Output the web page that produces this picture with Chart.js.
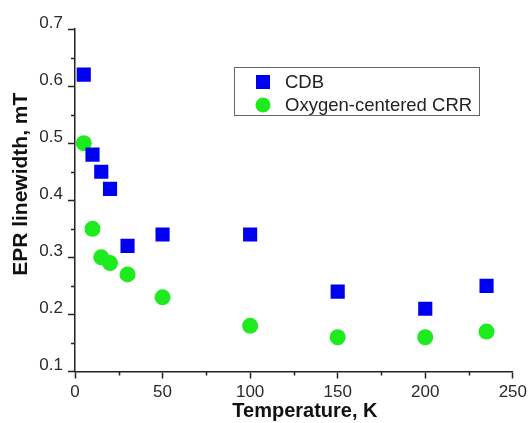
<!DOCTYPE html>
<html>
<head>
<meta charset="utf-8">
<script src="https://cdn.jsdelivr.net/npm/chart.js@4"></script>
<style>
  body { margin: 0; background: #fff; }
  #wrap { width: 531px; height: 423px; position: relative; }
</style>
</head>
<body>
<div id="wrap"><canvas id="epr"></canvas></div>
<script>
// temperatures (K) and linewidths (mT)
const temperatures = [5, 10, 15, 20, 30, 50, 100, 150, 200, 235];
const cdbWidth = [0.62, 0.48, 0.45, 0.42, 0.32, 0.34, 0.34, 0.24, 0.21, 0.25];
const crrWidth = [0.50, 0.35, 0.30, 0.29, 0.27, 0.23, 0.18, 0.16, 0.16, 0.17];
const seriesNames = ['CDB', 'Oxygen-centered CRR'];
const xTitle = 'Temperature, K';
const yTitle = 'EPR linewidth, mT';
const xMinorTicks = [25, 75, 125, 175, 225];
const yMinorTicks = [0.15, 0.25, 0.35, 0.45, 0.55, 0.65];

const FONT = "Arial, 'Liberation Sans', sans-serif";
const INK = '#222';
const BLUE = '#0000f0';
const GREEN = '#1eeb1e';

function toPoints(values) {
  return temperatures.map((t, i) => ({ x: t, y: values[i] }));
}

// small outward ticks between the labelled ones
const minorTicks = {
  id: 'minorTicks',
  afterDraw(chart) {
    const ctx = chart.ctx;
    const xs = chart.scales.x, ys = chart.scales.y;
    ctx.save();
    ctx.strokeStyle = INK;
    ctx.lineWidth = 1.5;
    ctx.beginPath();
    xMinorTicks.forEach(v => {
      const px = Math.round(xs.getPixelForValue(v)) + 0.5;
      ctx.moveTo(px, xs.top);
      ctx.lineTo(px, xs.top + 4);
    });
    yMinorTicks.forEach(v => {
      const py = Math.round(ys.getPixelForValue(v)) + 0.5;
      ctx.moveTo(ys.right, py);
      ctx.lineTo(ys.right - 4, py);
    });
    ctx.stroke();
    ctx.restore();
  }
};

// axis titles, placed like in the original figure (slightly off-centre)
const axisTitles = {
  id: 'axisTitles',
  afterDraw(chart) {
    const ctx = chart.ctx;
    const area = chart.chartArea;
    ctx.save();
    ctx.fillStyle = '#111';
    ctx.textAlign = 'center';
    ctx.textBaseline = 'middle';
    ctx.font = 'bold 20px ' + FONT;
    ctx.fillText(xTitle, (area.left + area.right) / 2 + 11, 411);
    ctx.translate(21, (area.top + area.bottom) / 2 - 16);
    ctx.rotate(-Math.PI / 2);
    ctx.font = 'bold 21px ' + FONT;
    ctx.fillText(yTitle, 0, 0);
    ctx.restore();
  }
};

// boxed legend inside the plot, upper right
const boxLegend = {
  id: 'boxLegend',
  afterDraw(chart) {
    const ctx = chart.ctx;
    const ds = chart.data.datasets;
    ctx.save();
    ctx.strokeStyle = '#666';
    ctx.lineWidth = 1;
    ctx.strokeRect(234.5, 67.5, 245, 48);
    ctx.font = '18.5px ' + FONT;
    ctx.textBaseline = 'middle';
    const rows = [82, 105];
    ds.forEach((d, i) => {
      const y = rows[i];
      ctx.fillStyle = d.backgroundColor;
      if (d.pointStyle === 'rect') {
        ctx.fillRect(256, y - 7, 14, 14);
      } else {
        ctx.beginPath();
        ctx.arc(263, y, 7.5, 0, Math.PI * 2);
        ctx.fill();
      }
      ctx.fillStyle = INK;
      ctx.fillText(d.label, 285, y + 1);
    });
    ctx.restore();
  }
};

new Chart(document.getElementById('epr'), {
  type: 'scatter',
  data: {
    datasets: [
      {
        label: seriesNames[0],
        data: toPoints(cdbWidth),
        pointStyle: 'rect',
        pointRadius: 10,
        pointHoverRadius: 10,
        backgroundColor: BLUE,
        borderColor: BLUE,
        borderWidth: 0
      },
      {
        label: seriesNames[1],
        data: toPoints(crrWidth),
        pointStyle: 'circle',
        pointRadius: 8,
        pointHoverRadius: 8,
        backgroundColor: GREEN,
        borderColor: GREEN,
        borderWidth: 0
      }
    ]
  },
  options: {
    responsive: true,
    maintainAspectRatio: false,
    animation: false,
    layout: { padding: { top: 29, right: 18, bottom: 0, left: 0 } },
    plugins: {
      legend: { display: false },
      tooltip: { enabled: false }
    },
    scales: {
      x: {
        type: 'linear',
        min: 0,
        max: 250,
        ticks: { stepSize: 50, font: { family: FONT, size: 17 }, color: '#2a2a2a', padding: 4 },
        grid: { drawOnChartArea: false, tickLength: 7, tickColor: INK, tickWidth: 1.5 },
        border: { color: INK, width: 1.5 },
        afterFit(scale) { scale.height = 51.5; }
      },
      y: {
        min: 0.1,
        max: 0.7,
        ticks: {
          stepSize: 0.1,
          font: { family: FONT, size: 17 },
          color: '#2a2a2a',
          padding: 5,
          labelOffset: -6,
          callback: v => v.toFixed(1)
        },
        grid: { drawOnChartArea: false, tickLength: 7, tickColor: INK, tickWidth: 1.5 },
        border: { color: INK, width: 1.5 },
        afterFit(scale) { scale.width = 75; }
      }
    }
  },
  plugins: [minorTicks, axisTitles, boxLegend]
});
</script>
</body>
</html>
